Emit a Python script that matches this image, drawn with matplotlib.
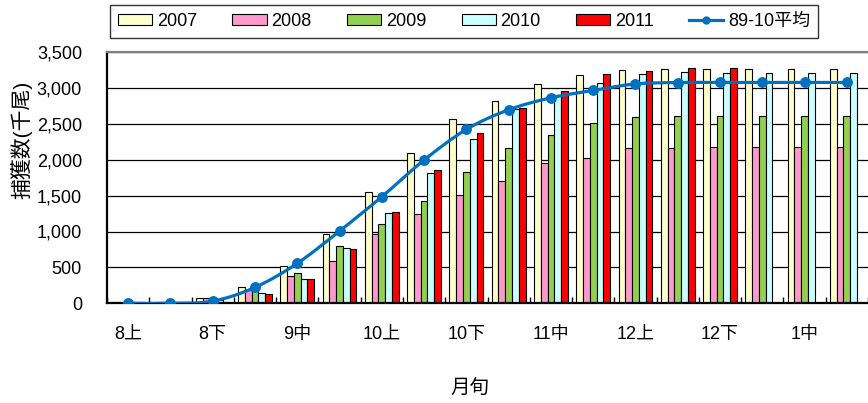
import numpy as np
import matplotlib
matplotlib.use("Agg")
import matplotlib.pyplot as plt
from matplotlib.path import Path
from matplotlib.patches import PathPatch
from matplotlib.lines import Line2D

plt.rcParams['font.family'] = ['Liberation Sans', 'Noto Sans CJK JP']

# 旬別の捕獲数（千尾）
periods = ['8上', '8中', '8下', '9上', '9中', '9下', '10上', '10中', '10下',
           '11上', '11中', '11下', '12上', '12中', '12下', '1上', '1中', '1下']
years = ['2007', '2008', '2009', '2010', '2011']
y2007 = [20, 20, 80, 230, 520, 960, 1545, 2100, 2570, 2820, 3055, 3175, 3250, 3270, 3270, 3270, 3270, 3270]
y2008 = [20, 20, 80, 180, 385, 595, 960, 1240, 1510, 1700, 1950, 2030, 2165, 2165, 2180, 2180, 2180, 2180]
y2009 = [20, 20, 75, 180, 425, 800, 1100, 1430, 1830, 2165, 2350, 2515, 2595, 2610, 2610, 2610, 2610, 2610]
y2010 = [20, 15, 50, 150, 340, 765, 1255, 1820, 2285, 2710, 2900, 3075, 3195, 3215, 3210, 3210, 3210, 3210]
y2011 = [15, 15, 20, 128, 340, 750, 1270, 1850, 2375, 2723, 2960, 3195, 3235, 3272, 3272]
avg_89_10 = [0, 0, 30, 222, 556, 1006, 1484, 1995, 2422, 2695, 2862, 2965, 3055, 3075, 3076, 3076, 3076, 3076]
avg_label = '89-10平均'
tick_labels = periods[::2]

series = [y2007, y2008, y2009, y2010, y2011]
colors = ['#FFFFCC', '#FF99CC', '#92D050', '#CCFFFF', '#FF0000']
line_color = '#0070C0'

fig = plt.figure(figsize=(8.68, 4.03), dpi=100)
ax = fig.add_axes([107 / 868, (403 - 303.3) / 403, 1 - 107 / 868, (303.3 - 52) / 403])

x = np.arange(len(periods))
bw = 0.16
for k, (vals, c, name) in enumerate(zip(series, colors, years)):
    xs = x[:len(vals)] + (k - 2) * bw
    ax.bar(xs, vals, width=bw, color=c, edgecolor='black', linewidth=0.8,
           zorder=2, label=name)

# smoothed average line (Bezier through each point)
pts = np.column_stack([x, avg_89_10]).astype(float)
verts = [tuple(pts[0])]
codes = [Path.MOVETO]
n = len(pts)
for i in range(n - 1):
    p0 = pts[i - 1] if i > 0 else pts[i]
    p1, p2 = pts[i], pts[i + 1]
    p3 = pts[i + 2] if i + 2 < n else pts[i + 1]
    c1 = p1 + (p2 - p0) / 6.0
    c2 = p2 - (p3 - p1) / 6.0
    verts += [tuple(c1), tuple(c2), tuple(p2)]
    codes += [Path.CURVE4] * 3
ax.add_patch(PathPatch(Path(verts, codes), facecolor='none', edgecolor=line_color,
                       linewidth=2.3, zorder=3, capstyle='round', joinstyle='round'))
ax.plot(x, avg_89_10, linestyle='none', marker='o', markersize=6.8,
        color=line_color, zorder=4)

ax.set_xlim(-0.5, -0.5 + 761.3 / 42.7)
ax.set_ylim(0, 3500)
ax.set_yticks(np.arange(0, 3501, 500))
ax.set_yticklabels([f'{v:,}' for v in range(0, 3501, 500)])
ax.yaxis.grid(True, color='black', linewidth=0.9, zorder=0)
ax.set_axisbelow(True)

ax.set_xticks(x[::2])
ax.set_xticklabels(tick_labels)
ax.set_xticks(np.arange(-0.5, len(periods), 1.0), minor=True)
ax.tick_params(axis='x', which='major', length=0, pad=16, labelsize=13)
ax.tick_params(axis='x', which='minor', direction='in', length=4, width=1)
ax.tick_params(axis='y', length=0, pad=18, labelsize=13)

for side in ['left', 'bottom']:
    ax.spines[side].set_color('black')
    ax.spines[side].set_linewidth(1.6)
ax.spines['top'].set_color('#808080')
ax.spines['top'].set_linewidth(1.6)
ax.spines['right'].set_visible(False)

fig.text(470 / 868, 1 - 388 / 403, '月旬', ha='center', va='center', fontsize=14)
fig.text(21 / 868, 1 - 140 / 403, '捕獲数(千尾)', ha='center', va='center',
         rotation=90, fontsize=15)

handles, labels = ax.get_legend_handles_labels()
handles.append(Line2D([], [], color=line_color, linewidth=2.3, marker='o', markersize=5))
labels.append(avg_label)
leg = fig.legend(handles, labels, ncol=6, mode='expand',
                 bbox_to_anchor=(110 / 868, 1 - 38 / 403, 708 / 868, 33 / 403),
                 loc='lower left', frameon=True, fancybox=False, fontsize=13,
                 handlelength=1.9, handleheight=0.55, handletextpad=0.25,
                 borderpad=0.45, borderaxespad=0)
leg.get_frame().set_edgecolor('black')
leg.get_frame().set_linewidth(1.0)

fig.savefig('out.png', dpi=100)
